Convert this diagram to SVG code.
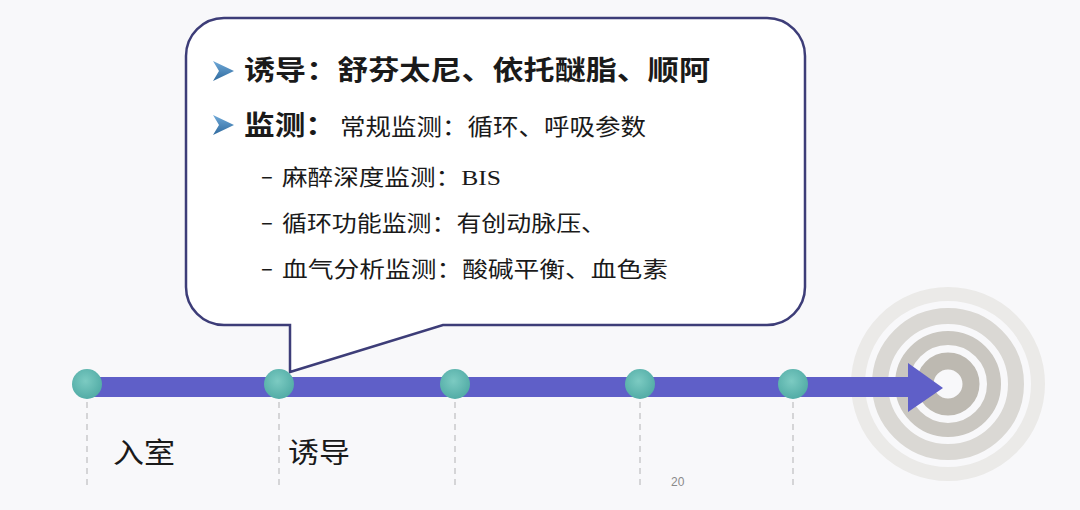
<svg xmlns="http://www.w3.org/2000/svg" width="1080" height="510" viewBox="0 0 1080 510">
  <defs>
    <style>
      .cjk { font-family: "Noto Sans CJK SC", "Noto Sans", sans-serif; fill: #1a1a1a; font-weight: 400; }
      .b { font-weight: 700; }
      .dash { stroke: #c9c9cc; stroke-width: 1.5; stroke-dasharray: 6 5; fill: none; }
      .dot { fill: url(#teal); }
      .bullet { fill: url(#blu); }
    </style>
    <radialGradient id="teal" cx="0.45" cy="0.4" r="0.6">
      <stop offset="0" stop-color="#7ccbc2"/>
      <stop offset="1" stop-color="#52aca6"/>
    </radialGradient>
    <linearGradient id="blu" x1="0" y1="0" x2="0" y2="1">
      <stop offset="0" stop-color="#6fa9d8"/>
      <stop offset="1" stop-color="#2f6a9e"/>
    </linearGradient>
  </defs>
  <rect width="1080" height="510" fill="#f8f8fa"/>

  <g id="target">
    <circle cx="948" cy="384" r="90" fill="none" stroke="#ebeae8" stroke-width="14"/>
    <circle cx="948" cy="384" r="68" fill="none" stroke="#dad8d4" stroke-width="16"/>
    <circle cx="948" cy="384" r="46" fill="none" stroke="#cac7c1" stroke-width="14"/>
    <circle cx="948" cy="384" r="23" fill="none" stroke="#bdb9b1" stroke-width="17"/>
  </g>

  <g id="connectors">
    <line class="dash" x1="87" y1="402" x2="87" y2="488"/>
    <line class="dash" x1="279" y1="402" x2="279" y2="488"/>
    <line class="dash" x1="455" y1="402" x2="455" y2="488"/>
    <line class="dash" x1="640" y1="402" x2="640" y2="488"/>
    <line class="dash" x1="793" y1="402" x2="793" y2="488"/>
    <rect x="87" y="377" width="823" height="20" fill="#5f5fc8"/>
    <polygon points="908,363 943,388 908,412" fill="#5f5fc8"/>
  </g>

  <g id="callout">
    <path d="M 224 18 H 767 A 38 38 0 0 1 805 56 V 287 A 38 38 0 0 1 767 325 H 443 L 290 372 V 325 H 224 A 38 38 0 0 1 186 287 V 56 A 38 38 0 0 1 224 18 Z" fill="#ffffff" stroke="#3d3d78" stroke-width="2.5"/>
    <polygon class="bullet" points="213,61 234,71 213,81 219,71"/>
    <text class="cjk b" x="244" y="80" font-size="27" textLength="466" lengthAdjust="spacingAndGlyphs">诱导：舒芬太尼、依托醚脂、顺阿</text>
    <polygon class="bullet" points="213,115 234,125 213,135 219,125"/>
    <text class="cjk b" x="244" y="135" font-size="27" textLength="92" lengthAdjust="spacingAndGlyphs">监测：</text>
    <text class="cjk" x="340" y="135" font-size="23" textLength="306" lengthAdjust="spacingAndGlyphs">常规监测：循环、呼吸参数</text>
    <text class="cjk" x="261" y="184" font-size="22">–</text>
    <text class="cjk" x="282" y="185" font-size="22" textLength="219" lengthAdjust="spacingAndGlyphs">麻醉深度监测：<tspan font-family="Liberation Serif, serif">BIS</tspan></text>
    <text class="cjk" x="261" y="230" font-size="22">–</text>
    <text class="cjk" x="282" y="231" font-size="22" textLength="324" lengthAdjust="spacingAndGlyphs">循环功能监测：有创动脉压、</text>
    <text class="cjk" x="261" y="276" font-size="22">–</text>
    <text class="cjk" x="282" y="277" font-size="22" textLength="386" lengthAdjust="spacingAndGlyphs">血气分析监测：酸碱平衡、血色素</text>
  </g>

  <g id="node-1"><circle class="dot" cx="87" cy="384" r="15"/><text class="cjk" x="113" y="463" font-size="28" textLength="62" lengthAdjust="spacingAndGlyphs">入室</text></g>
  <g id="node-2"><circle class="dot" cx="279" cy="384" r="15"/><text class="cjk" x="288" y="463" font-size="28" textLength="62" lengthAdjust="spacingAndGlyphs">诱导</text></g>
  <g id="node-3"><circle class="dot" cx="455" cy="384" r="15"/></g>
  <g id="node-4"><circle class="dot" cx="640" cy="384" r="15"/></g>
  <g id="node-5"><circle class="dot" cx="793" cy="384" r="15"/></g>

  <text x="671" y="486" font-family="Liberation Sans, sans-serif" font-size="12" fill="#8a8a8a">20</text>
</svg>
